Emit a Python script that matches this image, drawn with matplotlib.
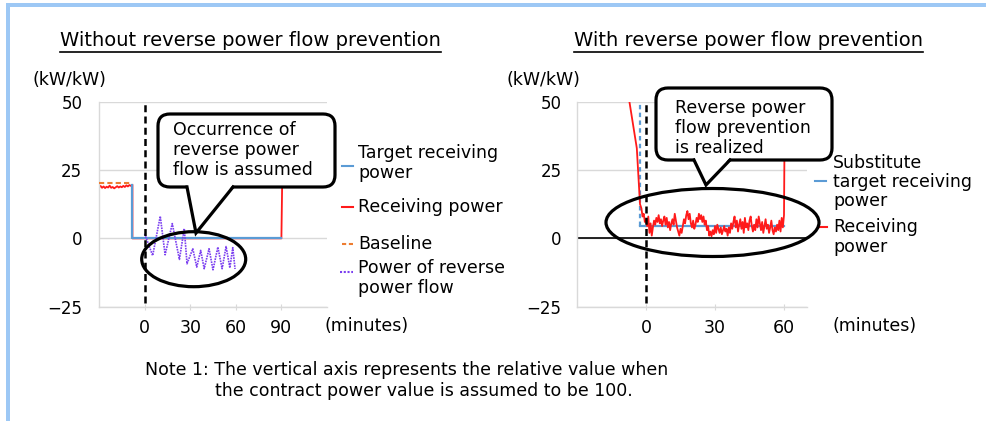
import matplotlib
matplotlib.use("Agg")
import matplotlib.pyplot as plt
from matplotlib.patches import FancyBboxPatch, Ellipse, Polygon, Rectangle

plt.rcParams['font.family'] = ['DejaVu Sans']

# ---------------- data ----------------
# Left chart: without reverse power flow prevention
left_recv_t = [-30, -29, -28, -27, -26, -25, -24, -23, -22, -21, -20, -19, -18, -17, -16,
               -15, -14, -13, -12, -11, -10, -9, -8, -8, 90, 90.5, 120]
left_recv = [18.7, 19.2, 18.5, 19.0, 18.4, 18.9, 18.6, 19.3, 18.5, 18.8, 18.3, 18.7, 19.1, 18.6,
             19.0, 18.7, 19.2, 18.8, 19.4, 19.0, 19.5, 19.2, 19.6, 0, 0, 20, 20]
left_target_t = [-8, -8, 90]
left_target = [19.6, 0, 0]
left_base_t = [-30, -8]
left_base = [20.2, 20.2]
rev_t = [0, 5.3, 10.3, 13.5, 18.2, 22.9, 26.1, 27.9, 31.7, 34.3, 36.9, 39.2, 42.4, 45.0,
         48.2, 51.0, 53.6, 56.1, 58.0, 59.5]
rev = [1.7, -6.3, 8.1, -6.0, 5.4, -7.7, 3.6, -9.3, -3.8, -10.5, -4.4, -11.1, -3.8, -11.5,
       -3.2, -11.1, -3.0, -10.8, -3.4, -11.2]
left_xticks = [0, 30, 60, 90]

# Right chart: with reverse power flow prevention
right_pre_t = [-30, -17, -16, -15, -8, -7.4, -4.0, -2.6, -2.0, -1.5, -1.0, -0.5]
right_pre = [65, 55, 50.3, 55, 60, 51, 33, 12.5, 11, 8, 9, 6]
right_main = [7.0, 4.5, 8.0, 2.0, 5.5, 1.0, 4.0, 6.5, 5.0, 7.5, 6.0, 8.5, 5.5, 7.0, 4.5, 6.5,
              8.0, 5.0, 7.5, 4.0, 6.0, 3.0, 5.5, 7.0, 5.0, 9.0, 6.5, 4.0, 2.5, 1.0, 3.5, 2.0,
              4.5, 7.0, 5.5, 8.5, 10.0, 7.0, 9.0, 5.5, 4.0, 6.5, 3.5, 5.0, 7.5, 6.0, 9.0, 7.0,
              8.5, 6.0, 8.0, 5.0, 6.5, 3.0, 4.5, 1.0, 2.5, 0.8, 3.0, 1.5, 4.5, 2.0, 5.0, 3.5,
              2.0, 4.0, 1.5, 3.0, 4.5, 2.5, 3.5, 1.0, 4.0, 2.0, 5.5, 3.5, 6.0, 8.0, 4.0, 6.5,
              2.5, 5.0, 7.0, 3.5, 6.0, 2.0, 7.5, 4.0, 5.5, 3.0, 6.5, 8.0, 4.5, 2.5, 5.0, 3.0,
              7.0, 4.0, 8.0, 5.5, 3.0, 6.0, 2.0, 4.5, 7.0, 3.5, 5.0, 2.0, 4.0, 6.5, 3.0, 1.5,
              4.0, 2.5, 5.0, 3.0, 6.5, 2.5, 7.5, 4.0, 8.5]
right_main_t = [i * 0.5 for i in range(len(right_main))]
right_post_t = [60.3, 70]
right_post = [45, 45]
right_recv_t = right_pre_t + right_main_t + right_post_t
right_recv = right_pre + right_main + right_post
sub_t = [-2.6, 60]
sub = [4.4, 4.4]
right_xticks = [0, 30, 60]

yticks = [-25, 0, 25, 50]

RED = '#FF1A1A'
BLUE = '#5B9BD5'
ORANGE = '#ED7D31'
PURPLE = '#7B3FF0'
GRID = '#D9D9D9'
FS = 12.5

W, H = 986, 421
fig = plt.figure(figsize=(W / 100, H / 100), dpi=100)

axL = fig.add_axes([99 / W, 1 - 306.7 / H, 228 / W, 205 / H])
axR = fig.add_axes([577 / W, 1 - 306.7 / H, 230 / W, 205 / H])

for ax, xl, xt, ypad in ((axL, (-30, 120), left_xticks, 12), (axR, (-30, 70), right_xticks, 11)):
    ax.set_xlim(*xl)
    ax.set_ylim(-25, 50)
    ax.set_yticks(yticks)
    ax.set_xticks(xt)
    ax.grid(axis='y', color=GRID, lw=1)
    ax.set_axisbelow(True)
    for s in ('top', 'right'):
        ax.spines[s].set_visible(False)
    for s in ('left', 'bottom'):
        ax.spines[s].set_color(GRID)
        ax.spines[s].set_linewidth(1)
    ax.tick_params(axis='y', length=0, pad=ypad, labelsize=12)
    ax.tick_params(axis='x', length=4, direction='inout', color=GRID, pad=7, labelsize=FS)
    ax.axvline(0, ymin=0.02, ymax=1, color='black', lw=1.8, ls=(0, (2.8, 1.7)), zorder=5)

# Left chart series
axL.plot(left_recv_t, left_recv, color=RED, lw=1.3, zorder=2)
axL.plot(left_target_t, left_target, color=BLUE, lw=1.6, zorder=3)
axL.plot(left_base_t, left_base, color=ORANGE, lw=1.5, ls=(0, (2.5, 1.5)), zorder=3)
axL.plot(rev_t, rev, color=PURPLE, lw=1.2, ls=(0, (1, 0.6)), zorder=4)

# Right chart series
axR.axhline(0, color='black', lw=1.2, zorder=2)
axR.plot(sub_t, sub, color=BLUE, lw=1.6, zorder=3)
axR.vlines(sub_t[0], sub[0], 50, color=BLUE, lw=1.6, ls=(0, (2, 1.5)), zorder=3)
axR.plot(right_recv_t, right_recv, color=RED, lw=1.3, zorder=4)

# ---------------- overlay (pixel coordinates) ----------------
ov = fig.add_axes([0, 0, 1, 1], zorder=10)
ov.set_xlim(0, W)
ov.set_ylim(H, 0)
ov.axis('off')
ov.patch.set_alpha(0)

BORDER = '#9DC8F5'
ov.add_patch(Rectangle((7, 3), W, 3.5, color=BORDER, lw=0))
ov.add_patch(Rectangle((6, 3), 3.5, H, color=BORDER, lw=0))

LW = 2.3


def callout(x0, y0, x1, y1, bl, br, tip, ell, txy, text):
    r = 12
    ov.add_patch(FancyBboxPatch((x0 + r, y0 + r), x1 - x0 - 2 * r, y1 - y0 - 2 * r,
                                boxstyle='round,pad=%d' % r, fc='white', ec='black', lw=LW,
                                zorder=5))
    ov.add_patch(Polygon([(bl, y1 - 2.5), (br, y1 - 2.5), tip], closed=True, fc='white',
                         ec='none', zorder=6))
    ov.plot([bl, tip[0], br], [y1, tip[1], y1], color='black', lw=LW, zorder=7,
            solid_joinstyle='miter')
    ov.add_patch(Ellipse(ell[:2], ell[2], ell[3], fill=False, ec='black', lw=LW, zorder=7))
    ov.text(txy[0], txy[1], text, fontsize=FS, ha='left', va='center', linespacing=1.12,
            zorder=8)


callout(158, 114, 335, 187, 187, 233, (196, 233), (193.7, 259.2, 104, 55), (173, 150),
        'Occurrence of\nreverse power\nflow is assumed')
callout(656, 88, 832, 160, 694, 730, (706, 185), (712.5, 222.5, 213, 68), (675, 128),
        'Reverse power\nflow prevention\nis realized')


def legend_item(x0, x1, y, color, ls, tx, ty, text):
    ov.plot([x0, x1], [y, y], color=color, lw=1.5, ls=ls)
    ov.text(tx, ty, text, fontsize=FS, ha='left', va='center', linespacing=1.1)


legend_item(342, 353, 166, BLUE, '-', 358, 163, 'Target receiving\npower')
legend_item(342, 353, 207, RED, '-', 358, 207, 'Receiving power')
legend_item(342, 353, 244, ORANGE, (0, (2, 1.3)), 358, 244, 'Baseline')
legend_item(340, 353, 272, PURPLE, (0, (1, 0.8)), 358, 278, 'Power of reverse\npower flow')

legend_item(815, 826, 181, BLUE, '-', 833, 182, 'Substitute\ntarget receiving\npower')
legend_item(819, 827, 227, RED, '-', 833, 237, 'Receiving\npower')

# axis unit labels
ov.text(33, 80, '(kW/kW)', fontsize=FS, ha='left', va='center')
ov.text(507, 80, '(kW/kW)', fontsize=FS, ha='left', va='center')
ov.text(325, 326, '(minutes)', fontsize=FS, ha='left', va='center')
ov.text(833, 326, '(minutes)', fontsize=FS, ha='left', va='center')

# titles (underlined)
titles = [(250.5, 'Without reverse power flow prevention'),
          (748.5, 'With reverse power flow prevention')]
title_objs = [ov.text(cx, 41, t, fontsize=14, ha='center', va='center') for cx, t in titles]
fig.canvas.draw()
inv = ov.transData.inverted()
for t in title_objs:
    bb = t.get_window_extent()
    (xa, ya), (xb, yb) = inv.transform([(bb.x0, bb.y0), (bb.x1, bb.y1)])
    ov.plot([xa, xb], [ya + 1, ya + 1], color='black', lw=1.2)

# note
ov.text(145, 370, 'Note 1: The vertical axis represents the relative value when',
        fontsize=FS, ha='left', va='center')
ov.text(215, 391, 'the contract power value is assumed to be 100.',
        fontsize=FS, ha='left', va='center')

fig.savefig('out.png', dpi=100)
